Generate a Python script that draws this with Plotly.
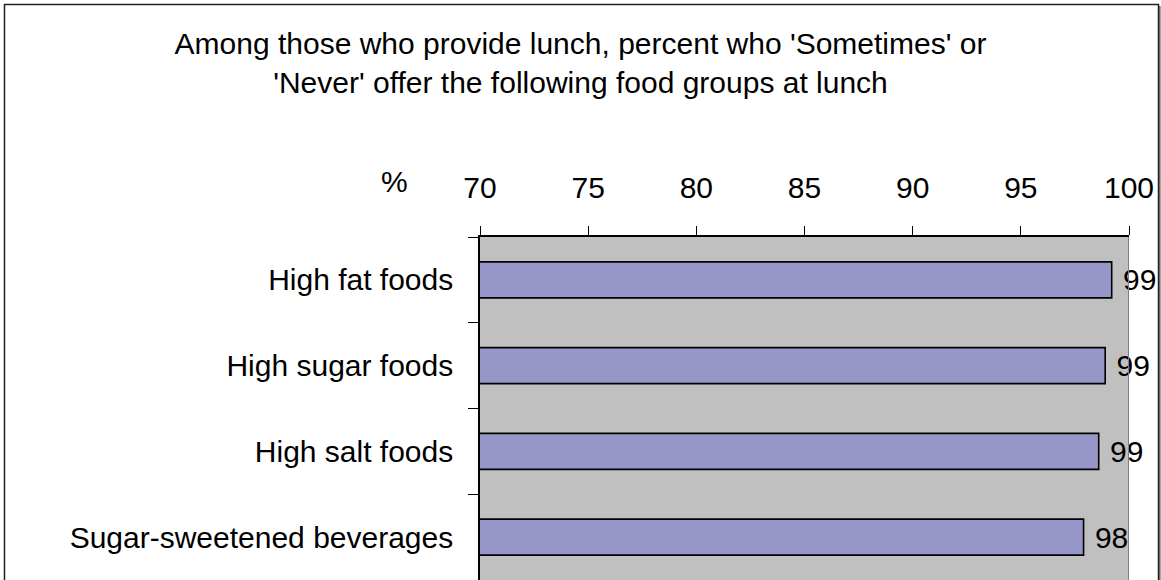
import plotly.graph_objects as go

categories = ["High fat foods", "High sugar foods", "High salt foods", "Sugar-sweetened beverages"]
values = [99.2, 98.9, 98.6, 97.9]
x_ticks = [70, 75, 80, 85, 90, 95, 100]

W, H = 1161, 580
L, R, T, B = 480, 32, 237, 0
pw = W - L - R
ph = H - T - B

def px_x(p):
    return (p - L) / pw

def px_y(p):
    return (H - B - p) / ph

FONT = "Liberation Sans, Arial, sans-serif"

fig = go.Figure()
fig.add_trace(go.Bar(
    y=categories,
    x=values,
    orientation="h",
    width=0.42,
    marker=dict(color="#9696C8", line=dict(color="black", width=1.6)),
    texttemplate=" %{x:.0f}",
    textposition="outside",
    textfont=dict(size=30, color="black", family=FONT),
    cliponaxis=False,
    showlegend=False,
))

fig.update_layout(
    width=W, height=H,
    margin=dict(l=L, r=R, t=T, b=B, pad=0),
    paper_bgcolor="white",
    plot_bgcolor="#C0C0C0",
    font=dict(family=FONT, size=30, color="black"),
    title=dict(
        text="Among those who provide lunch, percent who 'Sometimes' or<br>'Never' offer the following food groups at lunch",
        x=0.5, xref="container", xanchor="center",
        y=1 - 54 / H, yanchor="top",
        font=dict(size=30, color="black", family=FONT),
    ),
    xaxis=dict(
        side="top",
        range=[70, 100],
        tickvals=x_ticks,
        ticks="outside", ticklen=9, tickcolor="black", tickwidth=1,
        showline=True, linecolor="black", linewidth=1.5,
        showgrid=False, zeroline=False,
        tickfont=dict(size=30, color="black", family=FONT),
        ticklabelstandoff=16,
        fixedrange=True,
    ),
    yaxis=dict(
        categoryorder="array", categoryarray=categories,
        autorange="reversed",
        tickson="boundaries",
        ticks="outside", ticklen=10, tickcolor="black", tickwidth=1,
        showline=True, linecolor="black", linewidth=1.5,
        showgrid=False, zeroline=False,
        tickfont=dict(size=30, color="black", family=FONT),
        ticklabelstandoff=19,
    ),
    bargap=0.58,
)

# gray right edge of plot area
fig.add_shape(type="line", xref="x", yref="paper", x0=100, x1=100, y0=0, y1=1,
              line=dict(color="#808080", width=2))

# outer chart frame
fig.add_shape(type="rect", xref="paper", yref="paper",
              x0=px_x(4.5), x1=px_x(1158.5), y0=px_y(600), y1=px_y(4.5),
              line=dict(color="#202020", width=1.5), fillcolor="rgba(0,0,0,0)", layer="above")
fig.add_shape(type="line", xref="paper", yref="paper",
              x0=px_x(1159.8), x1=px_x(1159.8), y0=px_y(600), y1=px_y(6),
              line=dict(color="#606060", width=1.5))

fig.add_annotation(text="%", xref="paper", yref="paper",
                   x=px_x(394), y=px_y(182), xanchor="center", yanchor="middle",
                   showarrow=False, font=dict(size=30, color="black", family=FONT))

fig.write_html("out.html", config={"displayModeBar": False},
               post_script="document.body.style.margin='0';document.body.style.overflow='hidden';")
